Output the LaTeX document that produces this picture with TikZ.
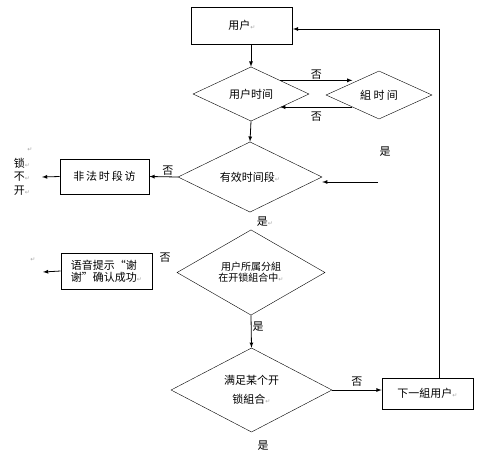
\documentclass[tikz,border=0pt]{standalone}
\usepackage{fontspec}
\setmainfont{Noto Sans CJK SC}
\newfontfamily\markfont{DejaVu Sans}
\usetikzlibrary{shapes.geometric}
\newcommand{\pmark}{{\markfont\fontsize{6}{6}\selectfont\color{gray!70}↵}}
\tikzset{
  box/.style={draw, thick, inner sep=0pt, font=\fontsize{11}{13}\selectfont},
  decision/.style={diamond, draw, inner sep=0pt, aspect=1, font=\fontsize{11}{13}\selectfont},
  arr/.style={-latex, thick},
  lbl/.style={font=\fontsize{11}{13}\selectfont, inner sep=1pt}
}
\begin{document}
\begin{tikzpicture}[x=1pt, y=-1pt]
  \useasboundingbox (0,0) rectangle (484,453);

  \node[box, minimum width=101pt, minimum height=37pt] (user) at (242,25.5) {用户\pmark};
  \node[decision, minimum width=116pt, minimum height=44pt] (utime) at (251,94) {用户时间};
  \node[decision, minimum width=106pt, minimum height=44pt] (gtime) at (379,95) {組\ 时\ 间};
  \node[decision, minimum width=144pt, minimum height=64pt] (valid) at (250,177) {有效时间段\pmark};
  \node[box, minimum width=89pt, minimum height=35pt] (illegal) at (104.5,176.5) {非\,法\,时\,段\,访};
  \node[decision, minimum width=148pt, minimum height=85pt, align=center,
        font=\fontsize{10}{11}\selectfont] (ingroup) at (251,272.5) {用户所属分組\\在开锁組合中\pmark};
  \node[box, minimum width=91pt, minimum height=36pt, align=left,
        font=\fontsize{11}{12}\selectfont] (voice) at (106.5,271) {语音提示“谢\\谢”确认成功\pmark};
  \node[decision, minimum width=161pt, minimum height=84pt, align=center,
        font=\fontsize{11}{19}\selectfont] (combo) at (251.5,390) {满足某个开\\锁組合\pmark};
  \node[box, minimum width=91pt, minimum height=31pt] (next) at (427.5,393.5) {下一組用户\pmark};

  \coordinate (lockend) at (42,177);
  \coordinate (voiceend) at (43,272);
  \coordinate (validin) at (378,182);

  % main line
  \draw[arr] (user.south -| utime.north) -- (utime.north);
  \draw[arr] (utime.south) -- (valid.north);
  \draw[arr] (ingroup.south) -- (combo.north) node[pos=0.35, right, lbl]{是};

  % side branches
  \draw[arr] (utime.north east) -- (utime.north east -| gtime.north west) node[midway, above, lbl]{否};
  \draw[arr] (gtime.south west) -- (gtime.south west -| utime.south east) node[midway, below=3pt, lbl]{否};
  \draw[arr] (validin) -- (validin -| valid.east);
  \draw[arr] (valid.west) -- (illegal.east) node[pos=0.35, above, lbl]{否};
  \draw[arr] (illegal.west) -- (lockend);
  \draw[arr] (voice.west) -- (voiceend);
  \draw[arr] (combo.east) -- (combo.east -| next.west) node[midway, above=2pt, lbl]{否};
  \draw[arr] ([xshift=11.5pt]next.north) |- ([yshift=-3.5pt]user.east); % back to top

  % loose labels
  \node[lbl] (yes1) at (385,152) {是};
  \node[lbl] (yes2) at (265,222) {是\pmark};
  \node[lbl] (no3) at (165,258) {否};
  \node[lbl] (yes4) at (263,446) {是};
  \node[lbl, align=left, font=\fontsize{11}{13.5}\selectfont] (lock) at (22,176.5) {锁\pmark\\不\pmark\\开\pmark};
  \node[lbl] (m1) at (30,150) {\pmark};
  \node[lbl] (m2) at (33,260) {\pmark};
\end{tikzpicture}
\end{document}
